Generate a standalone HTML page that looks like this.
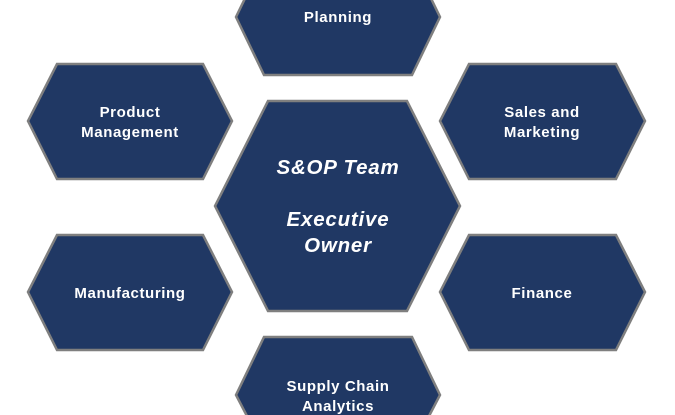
<!DOCTYPE html>
<html><head><style>html,body{margin:0;padding:0;background:#fff;width:675px;height:415px;overflow:hidden}</style></head>
<body>
<svg width="675" height="415" viewBox="0 0 675 415" xmlns="http://www.w3.org/2000/svg" style="display:block">
<g fill="#203864" stroke="#7f7f7f" stroke-width="2.5" stroke-linejoin="miter">
<polygon points="245.7,-3 430.3,-3 440,17 412,75 264,75 236,17"/>
<polygon points="57,64 203,64 232,121 203,179 57,179 28,121"/>
<polygon points="469,64 616,64 645,121 616,179 469,179 440,121"/>
<polygon points="57,235 203,235 232,292 203,350 57,350 28,292"/>
<polygon points="469,235 616,235 645,292 616,350 469,350 440,292"/>
<polygon points="264,337 412,337 440,395 428,418 248,418 236,395"/>
<polygon points="268,101 407,101 460,206 407,311 268,311 215,206"/>
</g>
<g fill="#fff" font-family="Liberation Sans, sans-serif" font-weight="bold" font-size="15" letter-spacing="0.6" text-anchor="middle">
<text x="338" y="22">Planning</text>
<text x="130" y="117">Product</text>
<text x="130" y="137">Management</text>
<text x="542" y="117">Sales and</text>
<text x="542" y="137">Marketing</text>
<text x="130" y="298">Manufacturing</text>
<text x="542" y="298">Finance</text>
<text x="338" y="391">Supply Chain</text>
<text x="338" y="411">Analytics</text>
<g font-style="italic" font-size="20.5" letter-spacing="0.8">
<text x="338" y="174">S&amp;OP Team</text>
<text x="338" y="226">Executive</text>
<text x="338" y="252">Owner</text>
</g>
</g>
</svg>
</body></html>
